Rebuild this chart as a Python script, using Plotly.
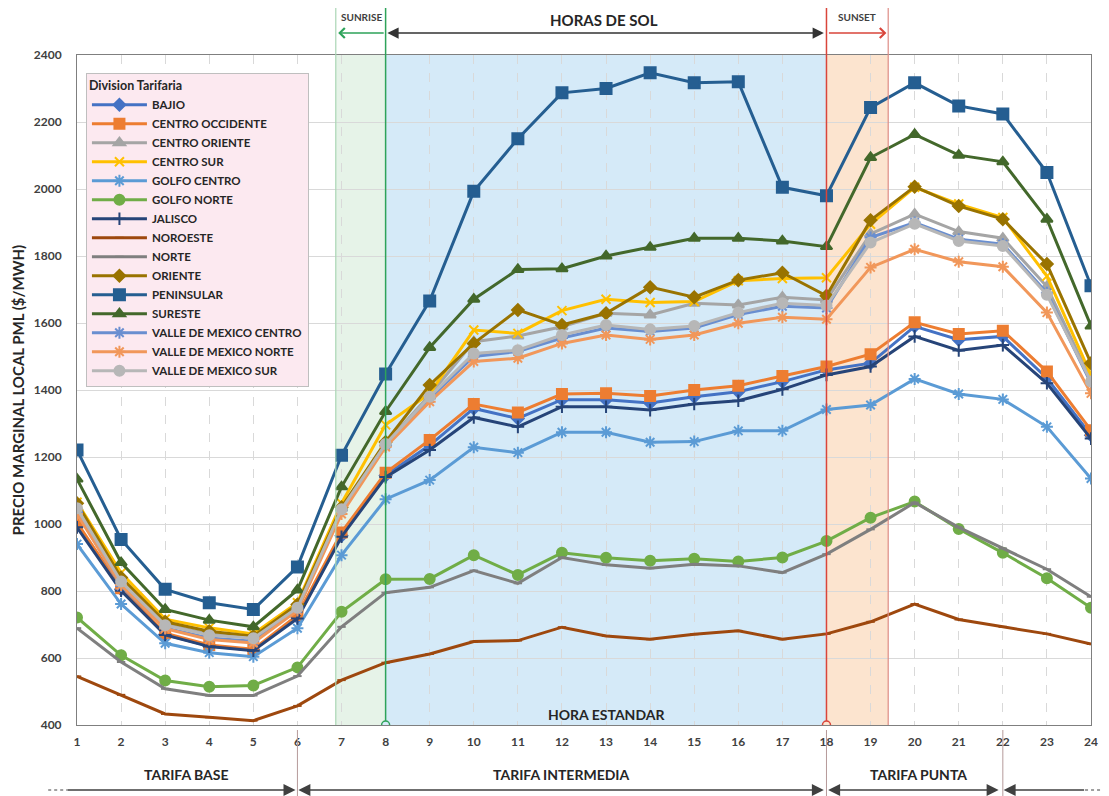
import plotly.graph_objects as go

hours = list(range(1, 25))

bajio = [995, 805, 670, 636, 624, 722, 965, 1145, 1235, 1345, 1315, 1371, 1371, 1361, 1380, 1395, 1425, 1460, 1480, 1590, 1550, 1560, 1435, 1265]
centro_occidente = [1004, 808, 674, 639, 626, 728, 975, 1153, 1251, 1358, 1333, 1388, 1390, 1382, 1400, 1413, 1442, 1470, 1507, 1602, 1567, 1577, 1455, 1280]
centro_oriente = [1050, 830, 700, 672, 662, 755, 1048, 1240, 1385, 1544, 1561, 1589, 1629, 1624, 1659, 1654, 1677, 1669, 1866, 1925, 1873, 1853, 1709, 1430]
centro_sur = [1065, 854, 716, 690, 672, 765, 1062, 1296, 1390, 1579, 1569, 1637, 1671, 1661, 1664, 1726, 1733, 1735, 1895, 2005, 1955, 1915, 1740, 1445]
golfo_centro = [940, 761, 644, 616, 604, 689, 907, 1074, 1131, 1229, 1213, 1274, 1274, 1244, 1246, 1278, 1278, 1342, 1355, 1433, 1388, 1372, 1290, 1136]
golfo_norte = [721, 608, 533, 514, 518, 572, 738, 835, 836, 907, 848, 914, 899, 890, 896, 888, 900, 949, 1019, 1067, 985, 914, 838, 750]
jalisco = [990, 801, 669, 634, 622, 718, 962, 1140, 1221, 1318, 1290, 1350, 1350, 1340, 1358, 1368, 1402, 1445, 1470, 1560, 1518, 1534, 1420, 1255]
noroeste = [545, 490, 433, 423, 413, 457, 534, 586, 612, 649, 652, 692, 666, 656, 671, 681, 656, 672, 708, 761, 715, 693, 672, 642]
norte = [689, 588, 508, 488, 488, 546, 693, 795, 811, 861, 823, 900, 878, 868, 880, 875, 855, 910, 984, 1064, 990, 927, 865, 783]
oriente = [1062, 840, 708, 680, 665, 760, 1050, 1245, 1415, 1539, 1639, 1594, 1629, 1707, 1677, 1728, 1750, 1681, 1907, 2007, 1949, 1910, 1776, 1480]
peninsular = [1221, 954, 805, 765, 745, 872, 1205, 1448, 1666, 1993, 2150, 2287, 2300, 2347, 2317, 2320, 2005, 1980, 2243, 2317, 2248, 2224, 2049, 1711]
sureste = [1134, 885, 745, 713, 693, 803, 1111, 1336, 1527, 1671, 1760, 1762, 1800, 1826, 1853, 1853, 1845, 1828, 2094, 2163, 2101, 2081, 1910, 1591]
vm_centro = [1035, 815, 690, 660, 650, 745, 1040, 1235, 1375, 1500, 1515, 1555, 1585, 1575, 1585, 1625, 1650, 1645, 1855, 1900, 1850, 1835, 1690, 1420]
vm_norte = [1030, 818, 688, 655, 645, 742, 1030, 1230, 1365, 1485, 1495, 1539, 1564, 1551, 1564, 1599, 1617, 1611, 1766, 1820, 1783, 1768, 1631, 1390]
vm_sur = [1047, 828, 698, 668, 659, 750, 1044, 1239, 1380, 1509, 1519, 1564, 1594, 1581, 1591, 1631, 1659, 1652, 1840, 1896, 1845, 1830, 1684, 1425]

series = [
    ("BAJIO", bajio, "#4472C4", "diamond", 9),
    ("CENTRO OCCIDENTE", centro_occidente, "#ED7D31", "square", 10),
    ("CENTRO ORIENTE", centro_oriente, "#A5A5A5", "triangle-up", 10),
    ("CENTRO SUR", centro_sur, "#FFC000", "x-thin-open", 9),
    ("GOLFO CENTRO", golfo_centro, "#5B9BD5", "asterisk-open", 10),
    ("GOLFO NORTE", golfo_norte, "#70AD47", "circle", 10),
    ("JALISCO", jalisco, "#264478", "cross-thin-open", 9),
    ("NOROESTE", noroeste, "#9E480E", "line-ew-open", 6),
    ("NORTE", norte, "#7F7F7F", "line-ew-open", 6),
    ("ORIENTE", oriente, "#997300", "diamond", 9),
    ("PENINSULAR", peninsular, "#255E91", "square", 11),
    ("SURESTE", sureste, "#43682B", "triangle-up", 10),
    ("VALLE DE MEXICO CENTRO", vm_centro, "#698ED0", "asterisk-open", 10),
    ("VALLE DE MEXICO NORTE", vm_norte, "#F1975A", "asterisk-open", 10),
    ("VALLE DE MEXICO SUR", vm_sur, "#B7B7B7", "circle", 10),
]

FONT = "Lato"
fig = go.Figure()
for name, vals, color, sym, size in series:
    fig.add_trace(go.Scatter(
        x=hours, y=vals, name=name, mode="lines+markers",
        line=dict(color=color, width=3),
        marker=dict(symbol=sym, size=size, color=color, line=dict(color=color, width=2)),
    ))

# page body has an 8px margin; compensate so the plot area lands at screen 77..1098 x 55..725
OFF = 8
W, H = 1109 - OFF, 796 - OFF
L, R, T, B = 77, 11, 55, 71          # screen-space plot edges
PW, PH = 1109 - L - R, 796 - T - B

def px(xp):
    return (xp - L) / PW

def py(yp):
    return (T + PH - yp) / PH

shapes = [
    dict(type="rect", xref="x", yref="y", x0=6.87, x1=8, y0=400, y1=2400,
         fillcolor="#E6F3E8", line=dict(width=0), layer="below"),
    dict(type="rect", xref="x", yref="y", x0=8, x1=18, y0=400, y1=2400,
         fillcolor="#D5EAF8", line=dict(width=0), layer="below"),
    dict(type="rect", xref="x", yref="y", x0=18, x1=19.4, y0=400, y1=2400,
         fillcolor="#FCE4CF", line=dict(width=0), layer="below"),
    dict(type="line", xref="x", yref="paper", x0=6.87, x1=6.87, y0=0, y1=py(5),
         line=dict(color="#A9D6B4", width=1.2)),
    dict(type="line", xref="x", yref="paper", x0=8, x1=8, y0=0, y1=py(5),
         line=dict(color="#2EA35A", width=1.5)),
    dict(type="line", xref="x", yref="paper", x0=18, x1=18, y0=0, y1=py(5),
         line=dict(color="#D9453B", width=1.5)),
    dict(type="line", xref="x", yref="paper", x0=19.4, x1=19.4, y0=0, y1=py(5),
         line=dict(color="#DE8C85", width=1.2)),
    dict(type="circle", xref="x", yref="y", xsizemode="pixel", ysizemode="pixel",
         xanchor=8, yanchor=400, x0=-4, x1=4, y0=-4, y1=4,
         line=dict(color="#2EA35A", width=1.5), fillcolor="#D5EAF8"),
    dict(type="circle", xref="x", yref="y", xsizemode="pixel", ysizemode="pixel",
         xanchor=18, yanchor=400, x0=-4, x1=4, y0=-4, y1=4,
         line=dict(color="#D9453B", width=1.5), fillcolor="#FCE4CF"),
]
for hx in (6, 18, 22):
    shapes.append(dict(type="line", xref="x", yref="paper", x0=hx, x1=hx,
                       y0=py(730), y1=py(796), line=dict(color="#B59A9A", width=1)))
shapes.append(dict(type="line", xref="paper", yref="paper", x0=px(48), x1=px(68),
                   y0=py(790), y1=py(790), line=dict(color="#A0A0A0", width=2, dash="dot")))
shapes.append(dict(type="line", xref="paper", yref="paper", x0=px(1092), x1=px(1108),
                   y0=py(790), y1=py(790), line=dict(color="#A0A0A0", width=2, dash="dot")))

annotations = []

def arrow(head, tail, ypx, color, side="end", head_style=2, width=1.5, size=1.3):
    annotations.append(dict(
        xref="paper", yref="paper", x=px(head), y=py(ypx),
        axref="pixel", ayref="pixel", ax=tail - head, ay=0,
        showarrow=True, arrowhead=head_style, startarrowhead=head_style,
        arrowside=side, arrowsize=size, startarrowsize=size, arrowwidth=width, arrowcolor=color, text="",
        standoff=0, startstandoff=0,
    ))

def label(text, xpx, ypx, size, color="#262626"):
    annotations.append(dict(
        xref="paper", yref="paper", x=px(xpx), y=py(ypx), text=text, showarrow=False,
        xanchor="center", yanchor="middle",
        font=dict(family=FONT, size=size, color=color, weight="bold"),
    ))

# top
arrow(829, 391, 33, "#333333", side="end+start", head_style=2, size=1.5)
arrow(340, 387, 33, "#2EA35A", head_style=4)
arrow(892, 833, 33, "#D9453B", head_style=4)
label("SUNRISE", 363, 17, 10, "#404040")
label("HORAS DE SOL", 608, 20, 15)
label("SUNSET", 862, 17, 10, "#404040")
# bottom
label("HORA ESTANDAR", 610, 714, 14)
label("TARIFA BASE", 187, 774, 14)
label("TARIFA INTERMEDIA", 565, 774, 14)
label("TARIFA PUNTA", 924, 774, 14)
arrow(297, 68, 790, "#404040", head_style=2, size=1.6)
arrow(829, 302, 790, "#404040", side="end+start", head_style=2, size=1.6)
arrow(1005, 833, 790, "#404040", side="end+start", head_style=2, size=1.6)
arrow(1010, 1092, 790, "#404040", head_style=2, size=1.6)
# y title
annotations.append(dict(
    xref="paper", yref="paper", x=px(18), y=py(390), text="PRECIO MARGINAL LOCAL PML ($/MWH)",
    showarrow=False, textangle=-90, xanchor="center", yanchor="middle",
    font=dict(family=FONT, size=15, color="#262626", weight="bold"),
))

fig.update_layout(
    width=W, height=H,
    margin=dict(l=L - OFF, r=R, t=T - OFF, b=B, pad=0),
    paper_bgcolor="white", plot_bgcolor="white",
    font=dict(family=FONT, color="#262626"),
    shapes=shapes, annotations=annotations,
    legend=dict(
        x=px(86), y=py(73), xanchor="left", yanchor="top",
        bgcolor="#FCE9F0", bordercolor="#BFBFBF", borderwidth=1,
        title=dict(text="Division Tarifaria", font=dict(family=FONT, size=12.5, color="#262626", weight="bold")),
        font=dict(family=FONT, size=11.5, color="#262626", weight="bold"),
        itemwidth=55, tracegroupgap=0,
    ),
)
fig.update_xaxes(
    range=[1, 24], tickvals=hours, showgrid=True, gridcolor="#D9D9D9", griddash="dash",
    showline=True, mirror=True, linecolor="#7F7F7F", linewidth=1, zeroline=False,
    tickfont=dict(family=FONT, size=12, color="#404040", weight="bold"),
    ticks="outside", ticklen=6, tickcolor="rgba(0,0,0,0)",
)
fig.update_yaxes(
    range=[400, 2400], dtick=200, showgrid=True, gridcolor="#D9D9D9",
    showline=True, mirror=True, linecolor="#7F7F7F", linewidth=1, zeroline=False,
    tickfont=dict(family=FONT, size=12, color="#404040", weight="bold"),
    ticks="outside", ticklen=12, tickcolor="rgba(0,0,0,0)",
)

fig.write_html("out.html")
